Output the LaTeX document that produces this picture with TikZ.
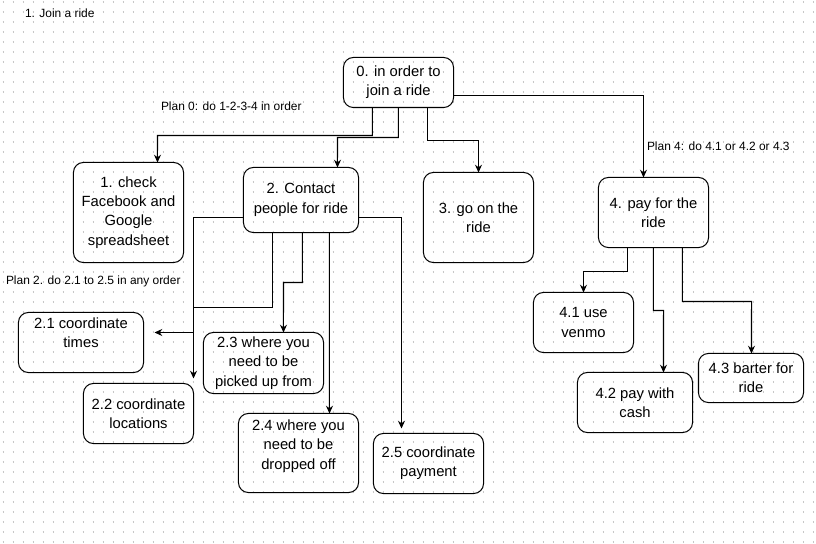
\documentclass[tikz,border=0pt]{standalone}
\usepackage{fontspec}
\setmainfont{Liberation Sans}
\usetikzlibrary{arrows.meta,calc}
\tikzset{
  box/.style={draw, rounded corners=7pt, align=center, inner sep=0pt, outer sep=0pt, font=\fontsize{10.5}{13.7}\selectfont},
  arr/.style={-{Stealth[length=5.5pt,width=5pt]}},
  plan/.style={anchor=west, inner sep=0pt, font=\fontsize{8.5}{10}\selectfont},
  dots/.style={black!22, line width=0.8pt, dash pattern=on 0.8pt off 6.313pt}
}
\begin{document}
\begin{tikzpicture}[x=0.025cm, y=-0.025cm, line width=0.72pt]
\useasboundingbox (0,0) rectangle (816,544);
\fill[white] (0,0) rectangle (816,544);
\foreach \y in {2,12,...,542}
  \draw[dots] (2.6,\y) -- (816,\y);

\begin{scope}[shift={(0.5,0.5)}]
\node[plan] (title) at (24,13) {1. Join a ride};
\node[plan] (plan0) at (160,106) {Plan 0: do 1-2-3-4 in order};
\node[plan] (plan2) at (5,281) {Plan 2. do 2.1 to 2.5 in any order};
\node[plan] (plan4) at (646,146) {Plan 4: do 4.1 or 4.2 or 4.3};

\node[box, minimum width=2.75cm, minimum height=1.25cm] (n0) at (398,82) {0. in order to\\join a ride};
\node[box, minimum width=2.75cm, minimum height=2.5cm] (n1) at (128,212) {1. check\\Facebook and\\Google\\spreadsheet};
\node[box, minimum width=2.875cm, minimum height=1.625cm] (n2) at (300.5,199.5) {2. Contact\\people for ride};
\node[box, minimum width=2.75cm, minimum height=2.25cm] (n3) at (478,217) {3. go on the\\ride};
\node[box, minimum width=2.75cm, minimum height=1.75cm] (n4) at (653,212) {4. pay for the\\ride};

\node[box, minimum width=3.125cm, minimum height=1.5cm, text depth=14pt] (n21) at (80.5,342) {2.1 coordinate\\times};
\node[box, minimum width=2.75cm, minimum height=1.5cm] (n22) at (138,413) {2.2 coordinate\\locations};
\node[box, minimum width=3cm, minimum height=1.525cm] (n23) at (263,362.5) {2.3 where you\\need to be\\picked up from};
\node[box, minimum width=3cm, minimum height=1.975cm, text depth=12pt] (n24) at (298,452.5) {2.4 where you\\need to be\\dropped off};
\node[box, minimum width=2.75cm, minimum height=1.5cm] (n25) at (428,463) {2.5 coordinate\\payment};

\node[box, minimum width=2.5cm, minimum height=1.5cm] (n41) at (583,322) {4.1 use\\venmo};
\node[box, minimum width=2.875cm, minimum height=1.5cm] (n42) at (634.5,402) {4.2 pay with\\cash};
\node[box, minimum width=2.625cm, minimum height=1.225cm] (n43) at (750.5,377.5) {4.3 barter for\\ride};

\draw[arr] ($(n0.south west)+(29,0)$) |- (157,135) -- ($(n1.north west)+(84,0)$);
\draw[arr] ($(n0.south west)+(55,0)$) |- (337,137) -- ($(n2.north west)+(94,0)$);
\draw[arr] ($(n0.south west)+(84,0)$) |- (478,140) -- (n3.north);
\draw[arr] ($(n0.south east)+(0,-12)$) -| ($(n4.north west)+(45,0)$);

\draw[arr] ($(n2.south west)+(29,0)$) |- (193,307) -- (193,332) -- ($(n21.east)+(11,-10)$);
\draw[arr] ($(n2.south west)+(0,-15)$) -| ($(n22.north east)+(0,-5)$);
\draw[arr] ($(n2.south west)+(59,0)$) |- (283,282) -- ($(n23.north west)+(80,0)$);
\draw[arr] ($(n2.south west)+(86,0)$) -- ($(n24.north west)+(91,0)$);
\draw[arr] ($(n2.south east)+(0,-15)$) -| ($(n25.north west)+(28,-5)$);

\draw[arr] ($(n4.south west)+(29,0)$) |- (583,271) -- (n41.north);
\draw[arr] ($(n4.south west)+(55,0)$) |- (663,310) -- ($(n42.north west)+(86,0)$);
\draw[arr] ($(n4.south west)+(84,0)$) |- (751,301) -- ($(n43.north west)+(53,0)$);
\end{scope}
\end{tikzpicture}
\end{document}
